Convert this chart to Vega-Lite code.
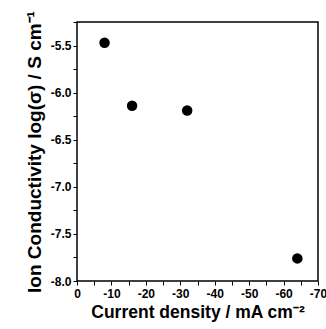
{
  "$schema": "https://vega.github.io/schema/vega-lite/v6.json",
  "width": 241,
  "height": 259,
  "autosize": "none",
  "padding": {"left": 77, "top": 22, "right": 8, "bottom": 48},
  "background": "white",
  "config": {
    "view": {"stroke": "black", "strokeWidth": 1.5},
    "axis": {"grid": false, "labelFont": "Liberation Sans", "labelFontWeight": "bold", "labelFontSize": 12, "labelColor": "black", "titleFont": "Liberation Sans", "titleFontWeight": "bold", "titleFontSize": 18, "titleColor": "black"}
  },
  "data": {"values": [
    {"current": -8, "logsigma": -5.47},
    {"current": -16, "logsigma": -6.14},
    {"current": -32, "logsigma": -6.19},
    {"current": -64, "logsigma": -7.76}
  ]},
  "mark": {"type": "point", "filled": true, "color": "black", "opacity": 1, "size": 110},
  "encoding": {
    "x": {"field": "current", "type": "quantitative", "scale": {"domain": [-70, 0], "reverse": true, "nice": false, "zero": false},
      "axis": {"values": [0,-5,-10,-15,-20,-25,-30,-35,-40,-45,-50,-55,-60,-65,-70], "tickColor": "black", "tickSize": 4, "domainOpacity": 0,
        "labelExpr": "datum.value % 10 === 0 ? '' + datum.value : ''", "labelPadding": 3, "labelFlush": false,
        "title": "Current density / mA cm⁻²", "titleFontSize": 17.5, "titlePadding": 4}},
    "y": {"field": "logsigma", "type": "quantitative", "scale": {"domain": [-8.0, -5.25], "nice": false, "zero": false},
      "axis": {"values": [-8.0,-7.75,-7.5,-7.25,-7.0,-6.75,-6.5,-6.25,-6.0,-5.75,-5.5,-5.25], "tickColor": "black", "tickSize": 4, "domainOpacity": 0,
        "labelExpr": "abs(datum.value*2 - round(datum.value*2)) < 0.001 ? replace(format(datum.value, '.1f'), '\u2212', '-') : ''", "labelPadding": 2, "labelFlush": false,
        "title": "Ion Conductivity log(σ) / S cm⁻¹", "titleFontSize": 19, "titlePadding": 6}}
  }
}
